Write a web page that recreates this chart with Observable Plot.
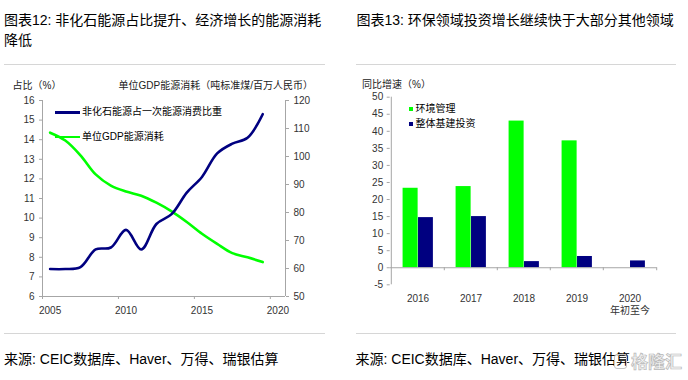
<!DOCTYPE html>
<html><head><meta charset="utf-8">
<script src="https://cdn.jsdelivr.net/npm/d3@7"></script>
<script src="https://cdn.jsdelivr.net/npm/@observablehq/plot@0.6"></script>
<style>
body{margin:0;background:#fff;}
#root{position:relative;width:688px;height:380px;overflow:hidden;font-family:"Liberation Sans","Noto Sans CJK SC",sans-serif;color:#000;}
.abs{position:absolute;white-space:nowrap;}
.title{font-size:14px;line-height:20.7px;}
.sep{position:absolute;height:1px;background:#d6d6d6;}
.small{font-size:10px;line-height:12px;color:#222;}
.src{font-size:14px;line-height:18px;}
svg{position:absolute;}
</style></head><body><div id="root">
<div class="abs title" style="left:4px;top:9.6px;">图表12: 非化石能源占比提升、经济增长的能源消耗<br>降低</div>
<div class="abs title" style="left:356.5px;top:9.6px;">图表13: 环保领域投资增长继续快于大部分其他领域</div>
<div class="sep" style="left:4px;top:64px;width:321px;"></div>
<div class="sep" style="left:356px;top:64px;width:320px;"></div>
<div class="sep" style="left:4px;top:333px;width:321px;"></div>
<div class="sep" style="left:356px;top:333px;width:320px;"></div>
<div class="abs small" style="left:12.5px;top:80px;">占比（%）</div>
<div class="abs small" style="right:375px;top:80px;">单位GDP能源消耗（吨标准煤/百万人民币）</div>
<div class="abs small" style="left:362px;top:79px;">同比增速（%）</div>
<div id="leftChart"></div>
<div id="rightChart"></div>
<div class="abs" style="left:55px;top:111px;width:25px;height:2.6px;background:#000080;"></div>
<div class="abs small" style="left:82px;top:106px;color:#000;">非化石能源占一次能源消费比重</div>
<div class="abs" style="left:55px;top:135.5px;width:25px;height:2.6px;background:#00ff00;"></div>
<div class="abs small" style="left:82px;top:130.5px;color:#000;">单位GDP能源消耗</div>
<div class="abs" style="left:409px;top:106.7px;width:4px;height:4px;background:#00ff00;"></div>
<div class="abs small" style="left:415.5px;top:102.7px;color:#000;">环境管理</div>
<div class="abs" style="left:409px;top:122px;width:4px;height:4px;background:#000080;"></div>
<div class="abs small" style="left:415.5px;top:118px;color:#000;">整体基建投资</div>
<div class="abs src" style="left:4px;top:350px;">来源: CEIC数据库、Haver、万得、瑞银估算</div>
<div class="abs src" style="left:355.5px;top:350px;">来源: CEIC数据库、Haver、万得、瑞银估算</div>
<div class="abs" style="left:614px;top:354px;width:13px;height:15px;border:1.5px solid #c4c4c4;border-radius:3px;box-sizing:border-box;"></div>
<div class="abs" style="left:631px;top:351px;font-size:17px;line-height:20px;font-weight:bold;color:#f2f2f2;-webkit-text-stroke:0.7px #b8b8b8;font-family:'Noto Sans CJK SC';">格隆汇</div>
</div>
<script>
// ---- Left chart data ----
const years = [2005,2006,2007,2008,2009,2010,2011,2012,2013,2014,2015,2016,2017,2018,2019];
const nonFossilShare = [7.4,7.4,7.5,8.4,8.5,9.4,8.4,9.7,10.2,11.3,12.1,13.3,13.8,14.1,15.3];
const energyPerGDP = [108.5,105.7,100.4,93.6,89.6,87.5,86.0,83.5,80.4,76.6,72.4,68.8,65.5,64.0,62.3];
const leftTicks = [6,7,8,9,10,11,12,13,14,15,16];
const rightTicks = [50,60,70,80,90,100,110,120];
const xTickYears = [2005,2010,2015,2020];

// ---- Right chart data ----
const categories = ["2016","2017","2018","2019","2020"];
const categoryLabels = ["2016","2017","2018","2019","2020\n年初至今"];
const envMgmt = [23.3,23.8,43.0,37.2,null];
const infraInv = [14.7,15.0,1.8,3.3,2.0];
const barTicks = [-5,0,5,10,15,20,25,30,35,40,45,50];

const axisGray = "#a6a6a6";
const labelColor = "#333";
const font = "'Liberation Sans','Noto Sans CJK SC',sans-serif";

const shareData = years.map((y,i)=>({year:y, v:nonFossilShare[i]}));
const energyData = years.map((y,i)=>({year:y, v:energyPerGDP[i]}));
const toLeft = v => 6 + (v - 50) / 70 * 10;
const fromLeft = d => Math.round(50 + (d - 6) * 7);

const left = Plot.plot({
  width: 340, height: 260,
  marginLeft: 42, marginRight: 55, marginTop: 30, marginBottom: 34,
  style: {fontFamily: font, fontSize: "10px", color: labelColor, background: "transparent", overflow: "visible"},
  x: {domain: [2004.5, 2020.5]},
  y: {domain: [6, 16]},
  marks: [
    Plot.ruleX([2004.5, 2020.5], {stroke: axisGray}),
    Plot.ruleY([6], {stroke: axisGray}),
    Plot.axisY(leftTicks, {anchor: "left", tickSize: 3, tickPadding: 5, stroke: axisGray, fill: labelColor, label: null, tickFormat: d => String(d)}),
    Plot.axisY(rightTicks.map(toLeft), {anchor: "right", tickSize: 3, tickPadding: 5, stroke: axisGray, fill: labelColor, label: null, tickFormat: d => String(fromLeft(d))}),
    Plot.axisX(xTickYears.map(y => y - 0.5), {tickSize: 3, stroke: axisGray, tickFormat: () => "", label: null}),
    Plot.axisX(xTickYears, {tickSize: 0, tickPadding: 10, fill: labelColor, tickFormat: d => String(d), label: null}),
    Plot.line(energyData, {x: "year", y: d => toLeft(d.v), stroke: "#00ff00", strokeWidth: 2.6, curve: "catmull-rom"}),
    Plot.line(shareData, {x: "year", y: "v", stroke: "#000080", strokeWidth: 2.6, curve: "catmull-rom"})
  ]
});
left.style.left = "0px"; left.style.top = "70px";
document.getElementById("leftChart").appendChild(left);

const rW = 344, rML = 45.7, rMR = 31.3;
const bw = (rW - rML - rMR) / categories.length;
const barData = categories.map((c,i)=>({cat:c, env:envMgmt[i], infra:infraInv[i]}));

const right = Plot.plot({
  width: rW, height: 260,
  marginLeft: rML, marginRight: rMR, marginTop: 26.7, marginBottom: 45.7,
  style: {fontFamily: font, fontSize: "10px", color: labelColor, background: "transparent", overflow: "visible"},
  x: {type: "band", domain: categories, padding: 0},
  y: {domain: [-5, 50]},
  marks: [
    Plot.barY(barData.filter(d => d.env != null), {x: "cat", y: "env", fill: "#00ff00", insetLeft: bw*0.217, insetRight: bw*0.494}),
    Plot.barY(barData, {x: "cat", y: "infra", fill: "#000080", insetLeft: bw*0.506, insetRight: bw*0.208}),
    Plot.ruleY([0], {stroke: axisGray}),
    Plot.ruleX([categories[0]], {dx: -bw/2, stroke: axisGray}),
    Plot.ruleX(categories.slice(1), {dx: -bw/2, y1: 0, y2: 0, insetBottom: -3, stroke: axisGray}),
    Plot.ruleX([categories[categories.length-1]], {dx: bw/2, y1: 0, y2: 0, insetBottom: -3, stroke: axisGray}),
    Plot.axisY(barTicks, {anchor: "left", tickSize: 3, tickPadding: 4, stroke: axisGray, fill: labelColor, label: null, tickFormat: d => String(d)}),
    Plot.axisX(categories, {tickSize: 0, tickPadding: 9, fill: labelColor, label: null, lineHeight: 1.2, tickFormat: d => categoryLabels[categories.indexOf(d)]})
  ]
});
right.style.left = "344px"; right.style.top = "70px";
document.getElementById("rightChart").appendChild(right);
</script>
</body></html>
